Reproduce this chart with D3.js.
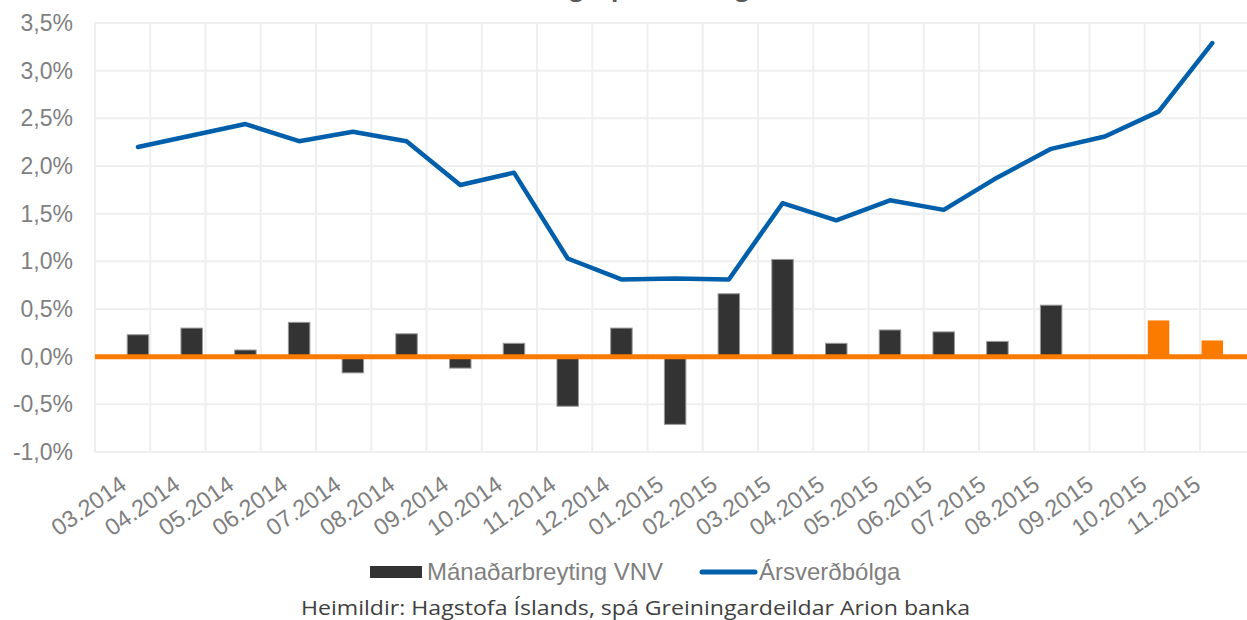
<!DOCTYPE html>
<html><head><meta charset="utf-8">
<script src="https://cdn.jsdelivr.net/npm/d3@7"></script>
<style>html,body{margin:0;padding:0;background:#fff;overflow:hidden}</style>
</head><body><svg id="c" width="1247" height="620"></svg>
<script>
const categories = ["03.2014","04.2014","05.2014","06.2014","07.2014","08.2014","09.2014","10.2014","11.2014","12.2014","01.2015","02.2015","03.2015","04.2015","05.2015","06.2015","07.2015","08.2015","09.2015","10.2015","11.2015"];
const monthlyChange = [0.23,0.30,0.07,0.36,-0.17,0.24,-0.12,0.14,-0.52,0.30,-0.71,0.66,1.02,0.14,0.28,0.26,0.16,0.54,0,0.38,0.17];
const forecast = [false,false,false,false,false,false,false,false,false,false,false,false,false,false,false,false,false,false,true,true,true];
const annualInflation = [2.20,2.32,2.44,2.26,2.36,2.26,1.80,1.93,1.03,0.81,0.82,0.81,1.61,1.43,1.64,1.54,1.88,2.18,2.31,2.57,3.29];
const yTicks = [-1,-0.5,0,0.5,1,1.5,2,2.5,3,3.5];
const seriesNames = ["Mánaðarbreyting VNV","Ársverðbólga"];
const titleText = "Verðbólguspá Greiningardeildar";
const sourceText = "Heimildir: Hagstofa Íslands, spá Greiningardeildar Arion banka";

const svg = d3.select("#c");
const plotLeft = 95, step = 55.25, plotTop = 23, plotBottom = 452;
const x = d3.scaleBand().domain(categories).range([plotLeft, plotLeft + step*categories.length]).padding(0.6);
const xb = d3.scaleBand().domain(categories).range([plotLeft, plotLeft + step*categories.length]).padding(0);
const y = d3.scaleLinear().domain([-1, 3.5]).range([plotBottom, plotTop]);
const fmt = v => d3.format(".1f")(v).replace(".", ",").replace("\u2212", "-") + "%";

// title (cropped at top, as in the reference)
svg.append("text").attr("x", 668).attr("y", -4.5).attr("text-anchor","middle")
  .attr("font-family","Open Sans").attr("font-weight","bold").attr("font-size",24).attr("fill","#595959").text(titleText);

// grid
const g = svg.append("g");
g.selectAll("line.h").data(yTicks).join("line")
  .attr("x1", plotLeft).attr("x2", 1260).attr("y1", d=>y(d)).attr("y2", d=>y(d))
  .attr("stroke","#efefef").attr("stroke-width",2);
const vlines = categories.map(c => xb(c)).concat([xb(categories[categories.length-1]) + xb.step()]);
g.selectAll("line.v").data(vlines).join("line")
  .attr("x1", d=>d).attr("x2", d=>d).attr("y1", plotTop).attr("y2", plotBottom)
  .attr("stroke","#efefef").attr("stroke-width",2);

// y axis labels
const yAxis = d3.axisLeft(y).tickValues(yTicks).tickFormat(fmt).tickSize(0).tickPadding(0);
svg.append("g").attr("transform", `translate(73,0)`).call(yAxis)
  .call(s => s.select(".domain").remove())
  .call(s => s.selectAll("text").attr("font-family","Liberation Sans, Arial").attr("font-size",23).attr("fill","#7f7f7f"));

// x axis labels
const xAxis = d3.axisBottom(x).tickSize(0).tickPadding(0);
svg.append("g").attr("transform", `translate(0,${plotBottom})`).call(xAxis)
  .call(s => s.select(".domain").remove())
  .call(s => s.selectAll("text")
    .attr("font-family","Liberation Sans, Arial").attr("font-size",23.5).attr("fill","#7f7f7f")
    .attr("text-anchor","end").attr("dy",0).attr("y",0)
    .attr("transform","translate(-10,36) rotate(-35)"));

// bars
svg.append("g").selectAll("rect").data(categories).join("rect")
  .attr("x", (d)=>x(d)).attr("width", x.bandwidth())
  .attr("y", (d,i)=>y(Math.max(0, monthlyChange[i])))
  .attr("height", (d,i)=>Math.abs(y(monthlyChange[i]) - y(0)))
  .attr("fill", (d,i)=> forecast[i] ? "#fa7b00" : "#333333")
  .attr("stroke", (d,i)=> forecast[i] ? "none" : "#9a9a9a").attr("stroke-width",1);

// zero line (orange)
svg.append("line").attr("x1", plotLeft).attr("x2", 1260).attr("y1", y(0)).attr("y2", y(0))
  .attr("stroke","#fa7b00").attr("stroke-width",5);

// annual inflation line
const line = d3.line().x((d,i)=>x(categories[i]) + x.bandwidth()/2).y(d=>y(d));
svg.append("path").datum(annualInflation).attr("d", line)
  .attr("fill","none").attr("stroke","#005fab").attr("stroke-width",4.5)
  .attr("stroke-linecap","round").attr("stroke-linejoin","round");

// legend
const lg = svg.append("g");
lg.append("rect").attr("x",370).attr("y",566).attr("width",52).attr("height",12).attr("fill","#333333");
lg.append("text").attr("x",427).attr("y",580).attr("font-family","Liberation Sans, Arial").attr("font-size",24).attr("fill","#7f7f7f").text(seriesNames[0]);
lg.append("line").attr("x1",702).attr("x2",755).attr("y1",572).attr("y2",572).attr("stroke","#005fab").attr("stroke-width",5).attr("stroke-linecap","round");
lg.append("text").attr("x",759).attr("y",580).attr("font-family","Liberation Sans, Arial").attr("font-size",24).attr("fill","#7f7f7f").text(seriesNames[1]);

// source
svg.append("text").attr("x",301).attr("y",615)
  .attr("font-family","Open Sans").attr("font-size",19.5).attr("fill","#404040")
  .attr("textLength", 669).attr("lengthAdjust","spacingAndGlyphs").text(sourceText);
</script></body></html>
